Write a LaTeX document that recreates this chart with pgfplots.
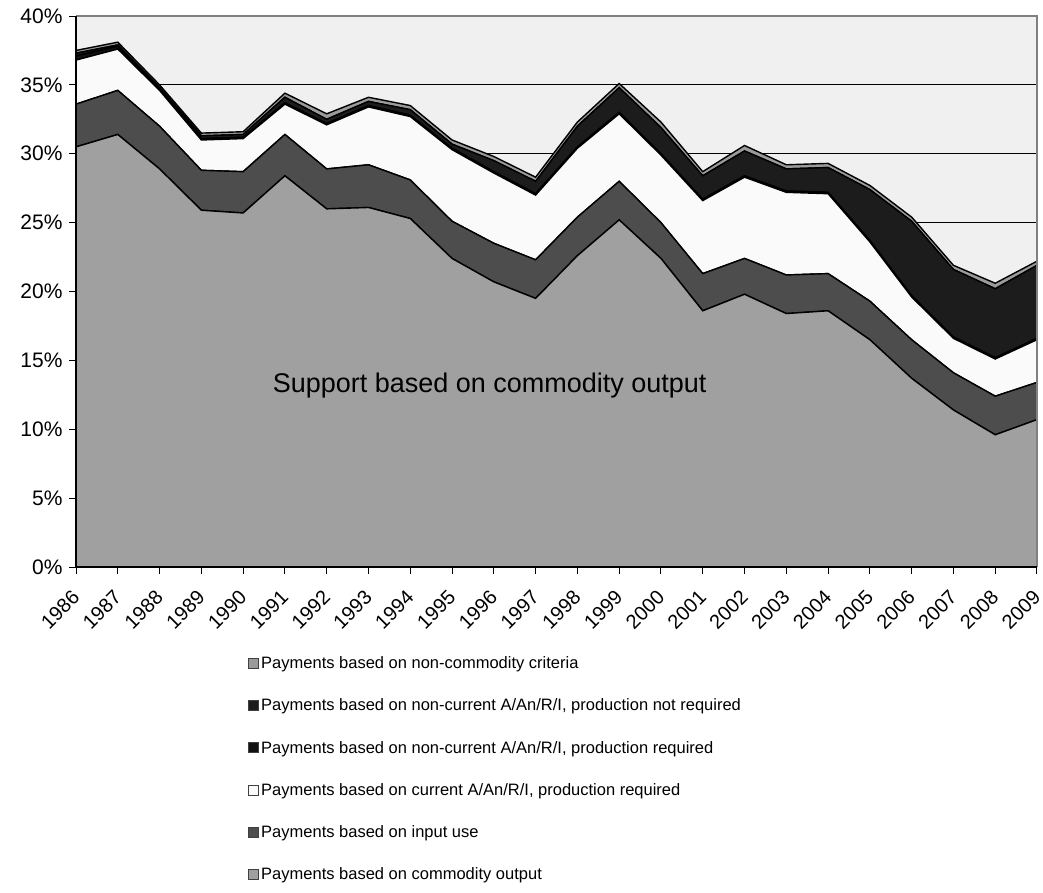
\documentclass[border=0pt]{standalone}
\usepackage{pgfplots}
\pgfplotsset{compat=1.18}
\usepackage{pgfplotstable}
\usepackage{fontspec}
\setmainfont{Liberation Sans}

\definecolor{bgGray}{HTML}{F0F0F0}
\definecolor{cOutput}{HTML}{A0A0A0}
\definecolor{cInput}{HTML}{4D4D4D}
\definecolor{cCurrent}{HTML}{FAFAFA}
\definecolor{cNcReq}{HTML}{111111}
\definecolor{cNcNotReq}{HTML}{1C1C1C}
\definecolor{cNonCom}{HTML}{9A9A9A}

% shares of gross farm receipts, % (layers, bottom to top)
\pgfplotstableread{
year com  inp cur ncpr ncnpr noncom
1986 30.5 3.1 3.2 0.3 0.2 0.2
1987 31.4 3.2 3.0 0.2 0.1 0.2
1988 28.9 3.1 2.6 0.1 0.1 0.2
1989 25.9 2.9 2.2 0.1 0.2 0.2
1990 25.7 3.0 2.4 0.1 0.2 0.2
1991 28.4 3.0 2.2 0.1 0.4 0.3
1992 26.0 2.9 3.2 0.1 0.3 0.4
1993 26.1 3.1 4.2 0.1 0.3 0.3
1994 25.3 2.8 4.6 0.1 0.4 0.3
1995 22.4 2.7 5.2 0.1 0.3 0.3
1996 20.7 2.8 5.1 0.1 0.8 0.3
1997 19.5 2.8 4.7 0.1 0.9 0.3
1998 22.6 2.8 5.0 0.1 1.5 0.3
1999 25.2 2.8 4.9 0.1 1.8 0.3
2000 22.4 2.6 4.9 0.1 1.9 0.4
2001 18.6 2.7 5.3 0.1 1.7 0.3
2002 19.8 2.6 5.9 0.1 1.8 0.4
2003 18.4 2.8 6.0 0.1 1.6 0.3
2004 18.6 2.7 5.8 0.1 1.8 0.3
2005 16.5 2.8 4.3 0.1 3.7 0.3
2006 13.7 2.8 3.1 0.1 5.4 0.3
2007 11.4 2.7 2.5 0.1 4.9 0.3
2008 9.6  2.8 2.7 0.1 5.0 0.4
2009 10.7 2.7 3.1 0.1 5.3 0.3
}\support

\begin{document}
\begin{tikzpicture}
\begin{axis}[
    name=ax,
    scale only axis,
    width=961pt, height=551pt,
    xmin=1986, xmax=2009, ymin=0, ymax=40,
    xtick={1986,...,2009},
    ytick={0,5,...,40},
    tick pos=left,
    stack plots=y,
    ymajorgrids,
    grid style={black, line width=1.2pt},
    axis background/.style={fill=bgGray},
    axis line style={draw=none},
    tick align=outside,
    tick style={black, line width=1pt},
    major tick length=7pt,
    /pgf/number format/1000 sep={},
    /pgf/number format/assume math mode=true,
    yticklabel={\pgfmathprintnumber{\tick}\%},
    yticklabel style={font=\fontsize{21}{21}\selectfont, xshift=-3pt},
    xticklabel style={rotate=45, anchor=east, font=\fontsize{20}{20}\selectfont, xshift=-13pt, yshift=-14pt, inner sep=1pt},
    every axis plot/.append style={draw=black, line width=1.4pt},
    legend image code/.code={\draw[#1, draw=black!75, line width=0.9pt] (0pt,-5pt) rectangle (10pt,5pt);},
    reverse legend,
    legend cell align=left,
    legend style={at={(0.176,-0.155)}, anchor=north west, draw=none, fill=none,
        font=\fontsize{16.5}{19}\selectfont, row sep=24.8pt,
        /tikz/every even column/.append style={column sep=2pt}},
    after end axis/.code={
        \draw[gray, line width=1.2pt] (rel axis cs:0,1) -- (rel axis cs:1,1) -- (rel axis cs:1,0);
        \draw[black, line width=2pt] (rel axis cs:0,1) -- (rel axis cs:0,0) -- (rel axis cs:1,0);
        \node[font=\fontsize{27}{27}\selectfont, text=black] at (axis cs:1995.9,13.2) {Support based on commodity output};
    },
]
\addplot[fill=cOutput] table[x=year, y=com] {\support} \closedcycle;
\addplot[fill=cInput] table[x=year, y=inp] {\support} \closedcycle;
\addplot[fill=cCurrent] table[x=year, y=cur] {\support} \closedcycle;
\addplot[fill=cNcReq] table[x=year, y=ncpr] {\support} \closedcycle;
\addplot[fill=cNcNotReq] table[x=year, y=ncnpr] {\support} \closedcycle;
\addplot[fill=cNonCom] table[x=year, y=noncom] {\support} \closedcycle;
\legend{{Payments based on commodity output},
        {Payments based on input use},
        {Payments based on current A/An/R/I, production required},
        {Payments based on non-current A/An/R/I, production required},
        {Payments based on non-current A/An/R/I, production not required},
        {Payments based on non-commodity criteria}}
\end{axis}
\pgfresetboundingbox
\path (ax.south west) ++(-76pt,-325pt) rectangle ++(1043pt,892pt);
\end{tikzpicture}
\end{document}
